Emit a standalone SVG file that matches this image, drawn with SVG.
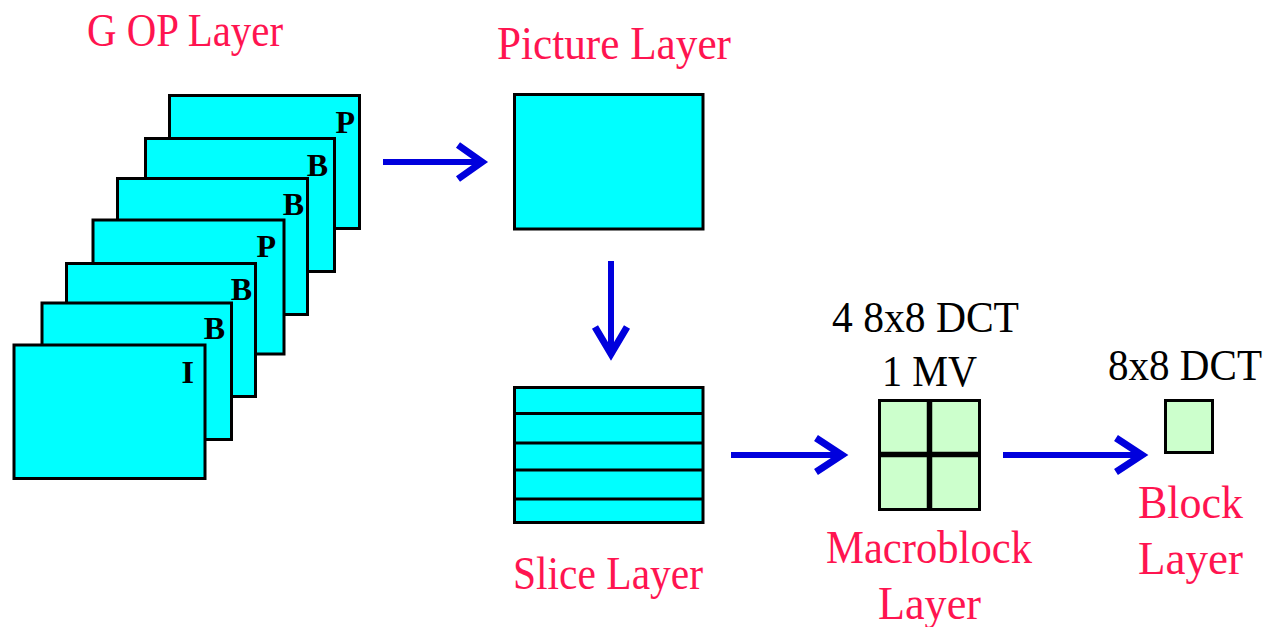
<svg xmlns="http://www.w3.org/2000/svg" width="1276" height="627" viewBox="0 0 1276 627">
<style>
.frame{fill:#00FFFF;stroke:#000;stroke-width:3}
.green{fill:#CCFFCC;stroke:#000;stroke-width:3}
.div{stroke:#000;stroke-width:3}
.div2{stroke:#000;stroke-width:5.5}
.lbl{font-family:"Liberation Serif",serif;font-size:47px;fill:#FF1450}
.blk{font-family:"Liberation Serif",serif;font-size:45px;fill:#000}
.ft{font-family:"Liberation Serif",serif;font-size:32px;font-weight:bold;fill:#000;text-anchor:end}
.arr{fill:none;stroke:#0000DD;stroke-width:6}
.head{fill:none;stroke:#0000DD;stroke-width:7;stroke-linejoin:miter;stroke-miterlimit:10}
</style>
<rect width="1276" height="627" fill="#fff"/>
<g id="gop">
<text class="lbl" x="87" y="46" textLength="196" lengthAdjust="spacingAndGlyphs">G OP Layer</text>
<rect class="frame" x="169.5" y="95.5" width="190" height="133"/>
<text class="ft" x="355" y="133">P</text>
<rect class="frame" x="145.5" y="138.5" width="189" height="133"/>
<text class="ft" x="328" y="176">B</text>
<rect class="frame" x="117.5" y="178.5" width="190" height="136"/>
<text class="ft" x="304" y="215">B</text>
<rect class="frame" x="93" y="220" width="191" height="134"/>
<text class="ft" x="276" y="257">P</text>
<rect class="frame" x="66.5" y="263.5" width="189" height="133"/>
<text class="ft" x="252" y="300">B</text>
<rect class="frame" x="42" y="303" width="189.5" height="136.5"/>
<text class="ft" x="225" y="339">B</text>
<rect class="frame" x="14" y="345" width="191" height="133.5"/>
<text class="ft" x="194" y="383">I</text>
</g>
<g id="picture">
<text class="lbl" x="497" y="59" textLength="234" lengthAdjust="spacingAndGlyphs">Picture Layer</text>
<rect class="frame" x="514.5" y="94.5" width="188.5" height="134.5"/>
</g>
<g id="slice">
<rect class="frame" x="514.5" y="387.5" width="188.5" height="135"/>
<line class="div" x1="514" y1="413.5" x2="703" y2="413.5"/>
<line class="div" x1="514" y1="443" x2="703" y2="443"/>
<line class="div" x1="514" y1="470" x2="703" y2="470"/>
<line class="div" x1="514" y1="499" x2="703" y2="499"/>
<text class="lbl" x="513" y="589" textLength="190" lengthAdjust="spacingAndGlyphs">Slice Layer</text>
</g>
<g id="macroblock">
<text class="blk" x="832" y="332" textLength="187" lengthAdjust="spacingAndGlyphs">4 8x8 DCT</text>
<text class="blk" x="882" y="386" textLength="95" lengthAdjust="spacingAndGlyphs">1 MV</text>
<rect class="green" x="879.5" y="400.5" width="100" height="109"/>
<line class="div2" x1="929.5" y1="400" x2="929.5" y2="510"/>
<line class="div2" x1="879" y1="454.5" x2="980" y2="454.5"/>
<text class="lbl" x="826" y="563" textLength="206" lengthAdjust="spacingAndGlyphs">Macroblock</text>
<text class="lbl" x="878" y="619" textLength="103" lengthAdjust="spacingAndGlyphs">Layer</text>
</g>
<g id="block">
<text class="blk" x="1108" y="380" textLength="154" lengthAdjust="spacingAndGlyphs">8x8 DCT</text>
<rect class="green" x="1165.5" y="400.5" width="47" height="52"/>
<text class="lbl" x="1138" y="518" textLength="105" lengthAdjust="spacingAndGlyphs">Block</text>
<text class="lbl" x="1138" y="574" textLength="105" lengthAdjust="spacingAndGlyphs">Layer</text>
</g>
<g id="connectors">
<line class="arr" x1="383" y1="162" x2="484" y2="162"/>
<polyline class="head" points="458,145 482,162 458,179"/>
<line class="arr" x1="611" y1="261" x2="611" y2="356"/>
<polyline class="head" points="595,327 611,354 627,327"/>
<line class="arr" x1="731" y1="455" x2="844" y2="455"/>
<polyline class="head" points="816,438 842,455 816,472"/>
<line class="arr" x1="1003" y1="455" x2="1144" y2="455"/>
<polyline class="head" points="1116,438 1142,455 1116,472"/>
</g>
</svg>
